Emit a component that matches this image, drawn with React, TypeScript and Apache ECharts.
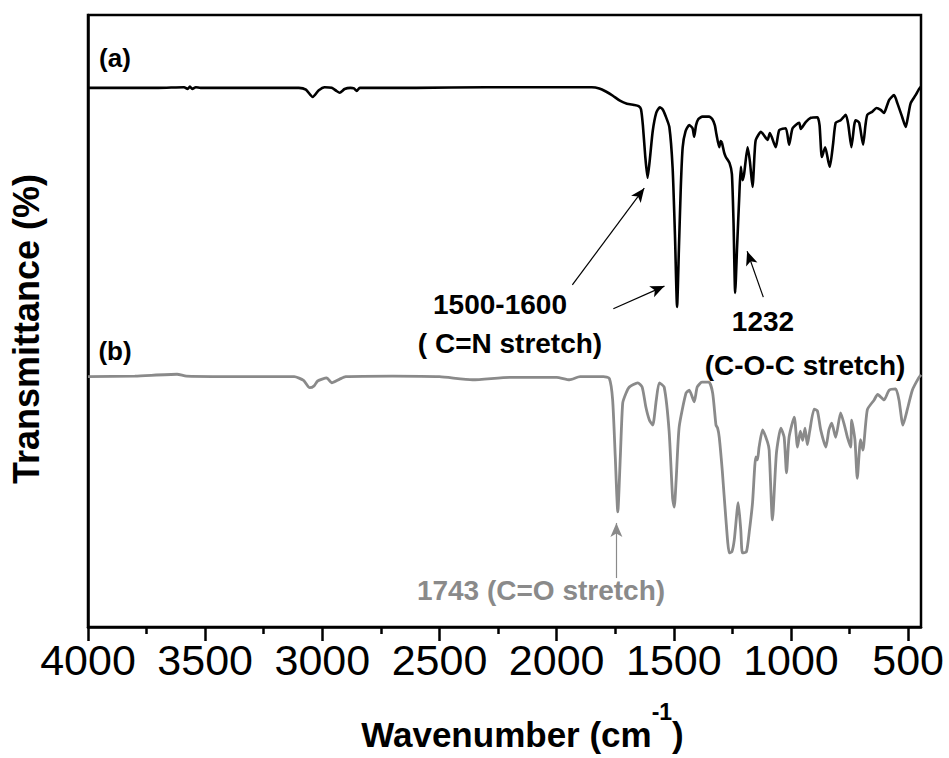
import React, { useEffect, useRef } from "react";
import * as echarts from "echarts";

// Spectrum (a): wavenumber (cm-1) and transmittance (arbitrary %, offset)
const waveA = [4000, 3700, 3590, 3575, 3565, 3555, 3540, 3520, 3300, 3100, 3070, 3041, 3015, 2990, 2960, 2940, 2926, 2905, 2880, 2865, 2853, 2840, 2600, 2300, 2000, 1850, 1818, 1790, 1760, 1730, 1700, 1670, 1650, 1640, 1632, 1622, 1612, 1602, 1590, 1575, 1560, 1548, 1535, 1519, 1505, 1495, 1486, 1478, 1470, 1462, 1450, 1434, 1420, 1413, 1405, 1395, 1378, 1350, 1336, 1325, 1318, 1306, 1300, 1295, 1285, 1278, 1262, 1252, 1245, 1238, 1230, 1221, 1214, 1207, 1200, 1185, 1175, 1164, 1155, 1150, 1128, 1100, 1090, 1065, 1050, 1022, 1008, 993, 965, 958, 937, 915, 887, 878, 868, 854, 840, 834, 820, 809, 788, 766, 755, 742, 730, 724, 709, 692, 682, 674, 653, 635, 617, 603, 590, 581, 560, 546, 525, 510, 500, 489, 468, 455, 445];
const transA = [88.1, 88.1, 88.2, 87.9, 88.3, 87.9, 88.2, 88.1, 88.1, 88.1, 87.8, 86.6, 87.7, 88.2, 88.1, 87.6, 87.3, 87.9, 88.1, 88.0, 87.6, 88.1, 88.1, 88.2, 88.2, 88.2, 88.0, 87.5, 86.8, 86.0, 85.5, 85.3, 85.1, 84.6, 82.0, 77.0, 73.4, 76.5, 81.0, 84.0, 84.9, 84.6, 83.5, 81.7, 75.0, 64.0, 52.3, 62.0, 72.0, 78.4, 81.0, 82.0, 81.5, 80.1, 82.0, 83.0, 83.4, 83.4, 83.0, 82.0, 80.5, 78.4, 79.4, 79.2, 77.5, 76.8, 75.8, 74.0, 66.0, 54.6, 62.0, 70.0, 75.2, 73.0, 74.0, 78.4, 76.0, 71.9, 77.5, 79.6, 80.9, 79.6, 80.7, 78.4, 81.2, 81.5, 78.8, 81.5, 82.4, 81.4, 82.5, 83.2, 83.3, 82.0, 76.8, 78.4, 76.0, 75.2, 79.0, 82.4, 82.8, 83.7, 82.0, 78.4, 82.0, 82.8, 82.4, 78.8, 82.0, 83.7, 84.2, 84.8, 84.5, 84.0, 85.2, 86.1, 86.9, 85.6, 83.3, 81.7, 83.5, 85.6, 86.9, 87.8, 88.3];

// Spectrum (b)
const waveB = [4000, 3800, 3620, 3580, 3300, 3120, 3080, 3054, 3035, 3020, 2981, 2960, 2926, 2900, 2700, 2500, 2359, 2200, 2000, 1945, 1900, 1800, 1775, 1761, 1750, 1739, 1728, 1718, 1704, 1690, 1654, 1635, 1619, 1604, 1590, 1575, 1562, 1541, 1520, 1505, 1498, 1490, 1477, 1448, 1434, 1413, 1400, 1380, 1350, 1334, 1320, 1313, 1306, 1293, 1278, 1263, 1252, 1242, 1225, 1214, 1207, 1190, 1178, 1164, 1150, 1143, 1136, 1121, 1100, 1093, 1079, 1062, 1043, 1029, 1019, 1008, 986, 972, 960, 950, 940, 930, 920, 901, 887, 873, 851, 838, 826, 809, 788, 770, 759, 745, 741, 727, 717, 703, 693, 674, 645, 630, 603, 581, 553, 539, 522, 503, 482, 455, 445];
const transB = [40.9, 41.0, 41.3, 41.0, 40.9, 40.9, 40.3, 39.1, 39.4, 40.2, 40.7, 39.9, 40.5, 40.9, 41.0, 40.9, 40.4, 40.8, 40.8, 40.4, 40.9, 40.9, 40.6, 37.1, 28.0, 18.8, 28.0, 36.6, 38.2, 39.2, 39.9, 39.2, 35.9, 33.8, 33.0, 37.0, 39.9, 39.2, 32.0, 21.0, 19.6, 24.0, 32.7, 38.2, 38.7, 36.8, 39.2, 40.0, 40.0, 38.2, 33.0, 32.5, 31.0, 25.5, 17.8, 12.1, 12.3, 14.2, 20.3, 15.8, 12.1, 12.3, 15.5, 20.3, 27.8, 27.3, 29.4, 32.2, 30.2, 28.9, 17.5, 28.4, 32.5, 31.0, 25.2, 31.0, 34.3, 29.4, 32.0, 30.5, 32.5, 29.8, 32.0, 35.6, 35.3, 32.2, 29.4, 32.2, 33.3, 31.0, 35.0, 32.7, 31.0, 29.4, 33.8, 30.6, 24.3, 30.6, 28.9, 35.5, 37.1, 38.0, 37.1, 38.7, 38.9, 37.1, 33.0, 35.6, 38.7, 40.7, 41.2];

const majorTicks = [4000, 3500, 3000, 2500, 2000, 1500, 1000, 500];
const minorTicks = [3750, 3250, 2750, 2250, 1750, 1250, 750];

// annotation arrows: [fromWave, fromT, toWave, toT]
const arrowsA = [
  [1933, 55.9, 1626, 71.7],
  [1758, 52.0, 1540, 55.7],
  [1118, 53.9, 1187, 61.4],
];
const arrowsB = [[1745, 8.0, 1745, 17.0]];

const FONT = "'Liberation Sans', Arial, Helvetica, sans-serif";
const GREY = "#8a8a8a";

export default function App() {
  const ref = useRef<HTMLDivElement>(null);
  useEffect(() => {
    if (!ref.current) return;
    const chart = echarts.init(ref.current, undefined, { renderer: "svg" });
    const dataA = waveA.map((w, i) => [w, transA[i]]);
    const dataB = waveB.map((w, i) => [w, transB[i]]);
    const toLines = (arr: number[][]) =>
      arr.map((a) => [{ coord: [a[0], a[1]] }, { coord: [a[2], a[3]] }]);
    const txt = (text: string, x: number, y: number, size: number, color = "#000") => ({
      type: "text",
      x,
      y,
      silent: true,
      style: {
        text,
        fill: color,
        font: `bold ${size}px ${FONT}`,
        align: "center",
        verticalAlign: "middle",
      },
    });
    chart.setOption({
      animation: false,
      backgroundColor: "#fff",
      grid: {
        left: 88,
        right: 28,
        top: 15,
        bottom: 131,
        show: true,
        borderColor: "#000",
        borderWidth: 2.5,
        backgroundColor: "transparent",
      },
      xAxis: [
        {
          type: "value",
          inverse: true,
          min: 445,
          max: 4000,
          position: "bottom",
          axisLine: { show: true, onZero: false, lineStyle: { color: "#000", width: 2.5 } },
          axisTick: { show: true, length: 14, lineStyle: { color: "#000", width: 2.5 }, customValues: majorTicks },
          axisLabel: {
            customValues: majorTicks,
            formatter: (v: number) => String(v),
            fontSize: 43,
            fontFamily: FONT,
            color: "#000",
            margin: 11,
          },
          splitLine: { show: false },
          name: "{m|Wavenumber (cm}{s|-1}{m|)}",
          nameLocation: "middle",
          nameGap: 73,
          nameTextStyle: {
            padding: [0, 0, 0, 36],
            rich: {
              m: { fontSize: 35, fontWeight: "bold", fontFamily: FONT, color: "#000", lineHeight: 52, verticalAlign: "bottom" },
              s: { fontSize: 23, fontWeight: "bold", fontFamily: FONT, color: "#000", lineHeight: 22, verticalAlign: "top" },
            },
          },
        },
        {
          type: "value",
          inverse: true,
          min: 445,
          max: 4000,
          position: "bottom",
          axisLine: { show: false },
          axisTick: { show: true, length: 7, lineStyle: { color: "#000", width: 2.5 }, customValues: minorTicks },
          axisLabel: { show: false },
          splitLine: { show: false },
        },
      ],
      yAxis: {
        type: "value",
        min: 0,
        max: 100,
        axisLine: { show: true, lineStyle: { color: "#000", width: 2.5 } },
        axisTick: { show: false },
        axisLabel: { show: false },
        splitLine: { show: false },
        name: "Transmittance (%)",
        nameLocation: "middle",
        nameGap: 44,
        nameRotate: 90,
        nameTextStyle: { fontSize: 36, fontWeight: "bold", fontFamily: FONT, color: "#000", padding: [0, 16, 0, 0] },
      },
      series: [
        {
          type: "line",
          name: "(a)",
          data: dataA,
          showSymbol: false,
          symbol: "none",
          smooth: 0.2,
          lineStyle: { color: "#000", width: 2.6 },
          markLine: {
            silent: true,
            symbol: ["none", "arrow"],
            symbolSize: [9, 14],
            label: { show: false },
            lineStyle: { color: "#000", width: 1.2, type: "solid" },
            data: toLines(arrowsA),
          },
        },
        {
          type: "line",
          name: "(b)",
          data: dataB,
          showSymbol: false,
          symbol: "none",
          smooth: 0.2,
          lineStyle: { color: GREY, width: 2.8 },
          markLine: {
            silent: true,
            symbol: ["none", "arrow"],
            symbolSize: [9, 14],
            label: { show: false },
            lineStyle: { color: GREY, width: 1.2, type: "solid" },
            data: toLines(arrowsB),
          },
        },
      ],
      graphic: [
        txt("(a)", 115, 58, 26),
        txt("(b)", 115, 351, 26),
        txt("1500-1600", 500, 304, 28),
        txt("( C=N stretch)", 510, 343, 28),
        txt("1232", 763, 321, 28),
        txt("(C-O-C stretch)", 805, 365, 28),
        txt("1743 (C=O stretch)", 541, 590, 28, GREY),
      ],
    });
    return () => chart.dispose();
  }, []);
  return (
    <div
      ref={ref}
      style={{ position: "fixed", left: 0, top: 0, width: 949, height: 758 }}
    />
  );
}
